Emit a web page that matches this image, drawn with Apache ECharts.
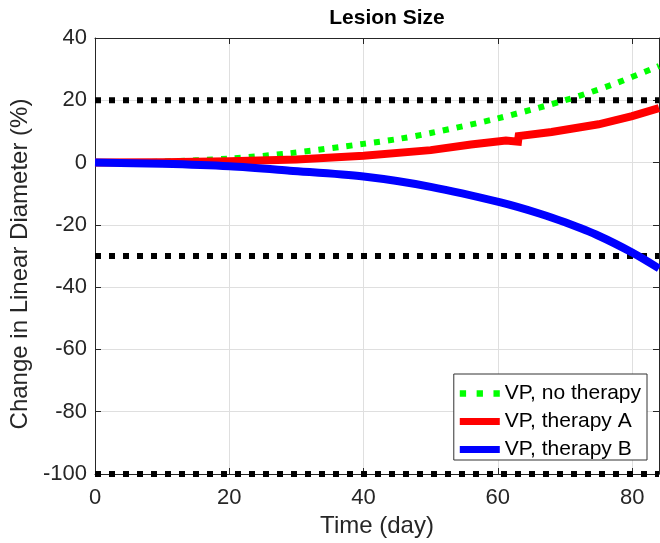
<!DOCTYPE html>
<html><head><meta charset="utf-8">
<script src="https://cdn.jsdelivr.net/npm/echarts@6/dist/echarts.min.js"></script>
<style>html,body{margin:0;padding:0;background:#fff}#c{width:660px;height:543px}</style>
</head><body><div id="c"></div>
<script>
const xTicks = [0, 20, 40, 60, 80];
const yTicks = [-100, -80, -60, -40, -20, 0, 20, 40];
const thresholds = [20, -30, -100];
const greenT = [0, 10, 20, 29, 40, 45.5, 50, 60, 70, 77, 84];
const greenV = [0, 0.3, 1.3, 3.0, 6.0, 7.7, 9.5, 14.2, 20, 25, 31];
const redT = [0, 10, 20, 30, 40, 50, 56, 61.2, 61.3, 63, 63.1, 68, 75, 80, 84];
const redV = [0, 0.1, 0.4, 1.0, 2.2, 4.0, 5.8, 7.1, 6.5, 6.7, 8.5, 9.8, 12.3, 14.9, 17.5];
const blueT = [0, 10, 20, 29, 40, 50, 60.4, 66.4, 70, 75, 80, 84];
const blueV = [0, -0.4, -1.2, -2.6, -4.5, -7.8, -12.8, -16.5, -19.2, -23.5, -28.9, -34];
const names = ['VP, no therapy', 'VP, therapy A', 'VP, therapy B'];

const pairs = (t, v) => t.map((x, i) => [x, v[i]]);
const chart = echarts.init(document.getElementById('c'));
const font = 'Liberation Sans, Arial, sans-serif';
const axisCol = '#262626';
const thrSeries = thresholds.map(v => ({
  type: 'line', data: [[0, v], [84, v]], symbol: 'none', silent: true,
  lineStyle: { color: '#000', width: 6, type: [6, 8] }, z: 1
}));
const baseX = {
  type: 'value', min: 0, max: 84, interval: 20,
  axisLine: { show: true, onZero: false, lineStyle: { color: axisCol } },
  axisTick: { show: true, inside: true, length: 6, lineStyle: { color: axisCol } },
  splitLine: { show: false }
};
const baseY = {
  type: 'value', min: -100, max: 40, interval: 20,
  axisLine: { show: true, onZero: false, lineStyle: { color: axisCol } },
  axisTick: { show: true, inside: true, length: 6, lineStyle: { color: axisCol } },
  splitLine: { show: false }
};
chart.setOption({
  animation: false,
  title: { text: 'Lesion Size', left: 382, top: 3, textAlign: 'center',
    textStyle: { fontFamily: font, fontSize: 21, fontWeight: 'bold', color: '#000' } },
  grid: { left: 95, right: 1, top: 38, bottom: 69 },
  legend: {
    data: [
      { name: names[0], icon: 'path://M0,0h6v6h-6z M16,0h6v6h-6z M32,0h6v6h-6z' },
      { name: names[1], icon: 'rect' },
      { name: names[2], icon: 'rect' }
    ],
    orient: 'vertical', right: 13, bottom: 83, itemWidth: 40, itemHeight: 7, itemGap: 7,
    padding: [9, 6, 0, 6],
    borderColor: '#333', borderWidth: 1, backgroundColor: '#fff', borderRadius: 0,
    textStyle: { fontFamily: font, fontSize: 21, color: '#000' }
  },
  xAxis: [
    Object.assign({}, baseX, {
      position: 'bottom',
      name: 'Time (day)', nameLocation: 'middle', nameGap: 39,
      nameTextStyle: { fontFamily: font, fontSize: 24, color: axisCol },
      axisLabel: { fontFamily: font, fontSize: 22, color: axisCol, margin: 13, showMaxLabel: false },
      splitLine: { show: true, lineStyle: { color: '#dfdfdf' } }
    }),
    Object.assign({}, baseX, { position: 'top', axisLabel: { show: false } })
  ],
  yAxis: [
    Object.assign({}, baseY, {
      position: 'left',
      name: 'Change in Linear Diameter (%)', nameLocation: 'middle', nameGap: 55,
      nameTextStyle: { fontFamily: font, fontSize: 24, color: axisCol, padding: [0, 16, 0, 0] },
      axisLabel: { fontFamily: font, fontSize: 22, color: axisCol, margin: 8 },
      splitLine: { show: true, lineStyle: { color: '#dfdfdf' } }
    }),
    Object.assign({}, baseY, { position: 'right', axisLabel: { show: false } })
  ],
  series: [
    ...thrSeries,
    { name: names[0], type: 'line', data: pairs(greenT, greenV), symbol: 'none', smooth: 0.3,
      lineStyle: { color: '#00ff00', width: 6, type: [6, 8] }, itemStyle: { color: '#00ff00' }, z: 3 },
    { name: names[1], type: 'line', data: pairs(redT, redV), symbol: 'none',
      lineStyle: { color: '#ff0000', width: 8, cap: 'butt', join: 'miter' }, itemStyle: { color: '#ff0000' }, z: 4 },
    { name: names[2], type: 'line', data: pairs(blueT, blueV), symbol: 'none', smooth: 0.3,
      lineStyle: { color: '#0000ff', width: 8, cap: 'butt' }, itemStyle: { color: '#0000ff' }, z: 5 }
  ]
});
</script></body></html>
